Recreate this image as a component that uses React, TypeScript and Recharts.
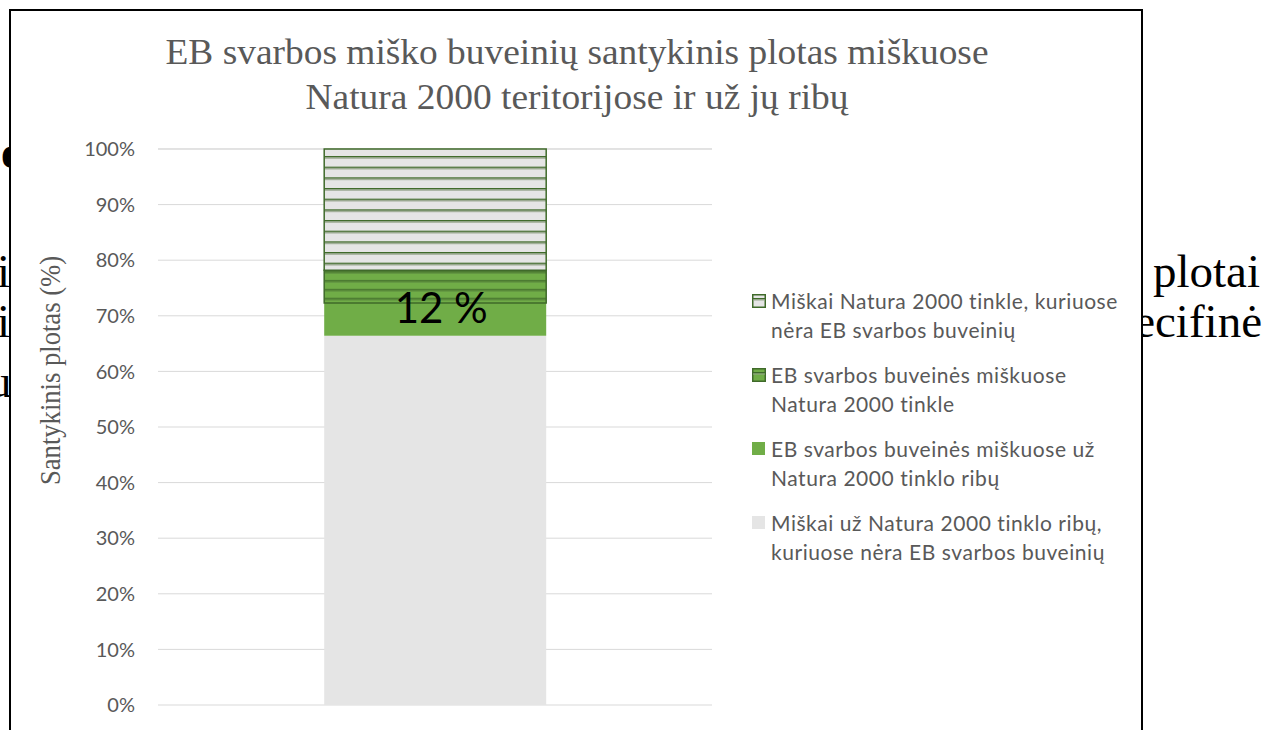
import { Bar, BarChart, CartesianGrid, LabelList, Legend, XAxis, YAxis } from "recharts";

const categories = ["Miškai"];
const outsideNoHabitat = [66.4];
const outsideHabitat = [5.9];
const insideHabitat = [5.9];
const insideNoHabitat = [21.8];

const seriesNames = {
  insideNoHabitat: "Miškai Natura 2000 tinkle, kuriuose nėra EB svarbos buveinių",
  insideHabitat: "EB svarbos buveinės miškuose Natura 2000 tinkle",
  outsideHabitat: "EB svarbos buveinės miškuose už Natura 2000 tinklo ribų",
  outsideNoHabitat: "Miškai už Natura 2000 tinklo ribų, kuriuose nėra EB svarbos buveinių",
};

const legendLines: Record<string, string[]> = {
  insideNoHabitat: ["Miškai Natura 2000 tinkle, kuriuose", "nėra EB svarbos buveinių"],
  insideHabitat: ["EB svarbos buveinės miškuose", "Natura 2000 tinkle"],
  outsideHabitat: ["EB svarbos buveinės miškuose už", "Natura 2000 tinklo ribų"],
  outsideNoHabitat: ["Miškai už Natura 2000 tinklo ribų,", "kuriuose nėra EB svarbos buveinių"],
};

const yTicks = [0, 10, 20, 30, 40, 50, 60, 70, 80, 90, 100];
const titleLines = [
  "EB svarbos miško buveinių santykinis plotas miškuose",
  "Natura 2000 teritorijose ir už jų ribų",
];
const yLabel = "Santykinis plotas (%)";

const data = categories.map((name, i) => ({
  name,
  outsideNoHabitat: outsideNoHabitat[i],
  outsideHabitat: outsideHabitat[i],
  insideHabitat: insideHabitat[i],
  insideNoHabitat: insideNoHabitat[i],
}));

const greenShare = Math.round(outsideHabitat[0] + insideHabitat[0]);

const GREY = "#e5e5e5";
const GREEN = "#70ad47";
const DARK = "#3f6a2a";
const TEXT = "#595959";

// legend box width, recharts adds it to the right offset
const LEGEND_W = 400;

const legendOrder = ["insideNoHabitat", "insideHabitat", "outsideHabitat", "outsideNoHabitat"];

function LegendIcon({ k }: { k: string }) {
  if (k === "insideNoHabitat" || k === "insideHabitat") {
    const base = k === "insideNoHabitat" ? GREY : GREEN;
    return (
      <svg width={14} height={14} style={{ flex: "none", marginTop: 8 }}>
        <rect x={0.75} y={0.75} width={12.5} height={12.5} fill={base} stroke={DARK} strokeWidth={1.5} />
        <rect x={1} y={4} width={12} height={1.5} fill={DARK} />
        <rect x={1} y={5.5} width={12} height={1} fill="#98a68e" />
      </svg>
    );
  }
  return (
    <svg width={14} height={14} style={{ flex: "none", marginTop: 8 }}>
      <rect x={0} y={0} width={13} height={13} fill={k === "outsideHabitat" ? GREEN : GREY} />
    </svg>
  );
}

function renderLegend() {
  return (
    <div
      style={{
        fontFamily: "Lato",
        fontSize: 21,
        letterSpacing: 0.55,
        color: TEXT,
        lineHeight: "29px",
      }}
    >
      {legendOrder.map((k) => (
        <div key={k} style={{ display: "flex", alignItems: "flex-start", marginBottom: 16 }}>
          <LegendIcon k={k} />
          <div style={{ marginLeft: 5, whiteSpace: "nowrap" }}>
            {legendLines[k].map((l) => (
              <div key={l}>{l}</div>
            ))}
          </div>
        </div>
      ))}
    </div>
  );
}

function ShareLabel(props: any) {
  const { x, y, width, height } = props;
  return (
    <text
      x={x + width / 2 + 6}
      y={y + height + 4}
      textAnchor="middle"
      dominantBaseline="central"
      fontFamily="Lato"
      fontSize={42}
      fill="#000"
    >
      {`${greenShare} %`}
    </text>
  );
}

export default function App() {
  return (
    <div
      style={{
        position: "absolute",
        left: 0,
        top: 0,
        width: 1266,
        height: 730,
        overflow: "hidden",
        background: "#fff",
      }}
    >
      <svg width={1266} height={730} style={{ position: "absolute", left: 0, top: 0 }}>
        <g fontFamily="Liberation Serif" fontSize={47} fill="#000">
          <text x={1} y={168} fontWeight="bold">e</text>
          <text x={-3} y={287}>i</text>
          <text x={-3} y={337}>i</text>
          <text x={-12} y={397}>u</text>
          <text x={1153} y={287}>plotai</text>
          <text x={1262} y={337} textAnchor="end">specifinė</text>
        </g>
      </svg>
      <div
        style={{
          position: "absolute",
          left: 9,
          top: 9,
          width: 1134,
          height: 760,
          border: "2px solid #000",
          boxSizing: "border-box",
          background: "#fff",
        }}
      />
      <div style={{ position: "absolute", left: 0, top: 0 }}>
        <BarChart
          width={1266}
          height={730}
          data={data}
          margin={{ top: 149, right: 554 - LEGEND_W, bottom: 25, left: 98 }}
          barCategoryGap="30%"
        >
          <defs>
            <pattern id="hatchGrey" patternUnits="userSpaceOnUse" width={10} height={10.67} y={6.6}>
              <rect width={10} height={10.67} fill={GREY} />
              <rect width={10} height={1.5} fill={DARK} />
              <rect y={1.5} width={10} height={1.2} fill="#98a68e" />
            </pattern>
            <pattern id="hatchGreen" patternUnits="userSpaceOnUse" width={10} height={8.9} y={4}>
              <rect width={10} height={8.9} fill={GREEN} />
              <rect width={10} height={1.8} fill="#4b7a31" />
              <rect y={1.8} width={10} height={1} fill="#5f9140" />
            </pattern>
          </defs>
          <CartesianGrid vertical={false} stroke="#d9d9d9" strokeWidth={1} />
          <XAxis dataKey="name" hide />
          <YAxis
            domain={[0, 100]}
            ticks={yTicks}
            interval={0}
            width={60}
            axisLine={false}
            tickLine={false}
            tickMargin={17}
            tickFormatter={(v) => `${v}%`}
            tick={{ fill: TEXT, fontSize: 20, fontFamily: "Lato" }}
          />
          <Legend
            layout="horizontal"
            verticalAlign="middle"
            align="right"
            content={renderLegend}
            wrapperStyle={{ left: 752, top: 286, width: LEGEND_W, right: "auto", bottom: "auto" }}
          />
          <Bar
            dataKey="outsideNoHabitat"
            name={seriesNames.outsideNoHabitat}
            stackId="a"
            fill={GREY}
            isAnimationActive={false}
          />
          <Bar
            dataKey="outsideHabitat"
            name={seriesNames.outsideHabitat}
            stackId="a"
            fill={GREEN}
            isAnimationActive={false}
          />
          <Bar
            dataKey="insideHabitat"
            name={seriesNames.insideHabitat}
            stackId="a"
            fill="url(#hatchGreen)"
            stroke={DARK}
            strokeWidth={1.5}
            isAnimationActive={false}
          >
            <LabelList content={ShareLabel} />
          </Bar>
          <Bar
            dataKey="insideNoHabitat"
            name={seriesNames.insideNoHabitat}
            stackId="a"
            fill="url(#hatchGrey)"
            stroke={DARK}
            strokeWidth={1.5}
            isAnimationActive={false}
          />
        </BarChart>
      </div>
      <svg
        width={1266}
        height={730}
        style={{ position: "absolute", left: 0, top: 0, pointerEvents: "none" }}
      >
        <g fontFamily="Liberation Serif" fill={TEXT}>
          <text x={577} y={64} fontSize={36} textAnchor="middle" textLength={823} lengthAdjust="spacingAndGlyphs">
            {titleLines[0]}
          </text>
          <text x={577} y={109} fontSize={36} textAnchor="middle" textLength={543} lengthAdjust="spacingAndGlyphs">
            {titleLines[1]}
          </text>
          <text
            x={60}
            y={370.5}
            fontSize={29}
            textAnchor="middle"
            textLength={229}
            lengthAdjust="spacingAndGlyphs"
            transform="rotate(-90 60 370.5)"
          >
            {yLabel}
          </text>
        </g>
      </svg>
    </div>
  );
}
